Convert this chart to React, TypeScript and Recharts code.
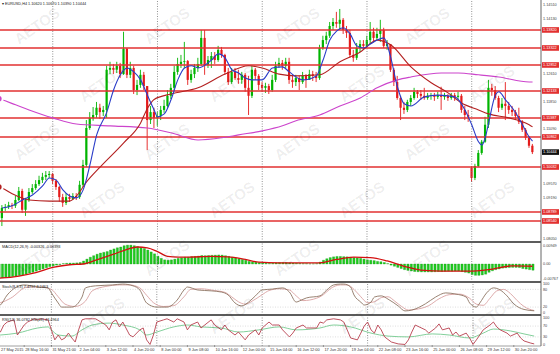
import { ComposedChart, Bar, Line, XAxis, YAxis, ReferenceLine } from "recharts";

// EURUSD H4, 27 May - 1 Jul 2015
const firstOpen = 1.0879;
const gapOpens: Record<number, number> = { 140: 1.1001 };

const closes = [
  1.0862, 1.089, 1.0893, 1.0898, 1.0896, 1.0912, 1.0937, 1.0885, 1.0912, 1.0934,
  1.0945, 1.0956, 1.0967, 1.0976, 1.0981, 1.0984, 1.0965, 1.0948, 1.092, 1.0904,
  1.092, 1.0915, 1.0923, 1.092, 1.0954, 1.1009, 1.1111, 1.1139, 1.1147, 1.1167,
  1.1155, 1.1161, 1.1272, 1.1277, 1.1272, 1.1283, 1.126, 1.133, 1.1258, 1.1277,
  1.1216, 1.123, 1.1258, 1.1227, 1.1133, 1.1155, 1.1139, 1.1144, 1.1161, 1.1172,
  1.12, 1.1222, 1.1266, 1.1288, 1.1294, 1.1296, 1.1244, 1.126, 1.1277, 1.1288,
  1.136, 1.1285, 1.1299, 1.131, 1.1299, 1.1327, 1.1313, 1.1266, 1.1238, 1.1266,
  1.1249, 1.1244, 1.1258, 1.1222, 1.12, 1.1272, 1.1255, 1.123, 1.1222, 1.1227,
  1.1216, 1.1244, 1.1283, 1.1291, 1.1283, 1.1294, 1.1244, 1.1238, 1.1249, 1.1238,
  1.1255, 1.1244, 1.126, 1.1255, 1.1249, 1.1332, 1.1354, 1.1366, 1.1393, 1.1404,
  1.1399, 1.141, 1.1382, 1.1374, 1.1313, 1.1305, 1.1332, 1.1343, 1.1338, 1.1354,
  1.1377, 1.136, 1.1371, 1.1382, 1.1338, 1.1343, 1.1272, 1.1238, 1.1194, 1.1167,
  1.1161, 1.1183, 1.1194, 1.1211, 1.1205, 1.12, 1.1194, 1.12, 1.1202, 1.1197,
  1.1202, 1.1197, 1.12, 1.1194, 1.1202, 1.1197, 1.12, 1.1161, 1.1147, 1.1142,
  1.0973, 1.1006, 1.1042, 1.1073, 1.112, 1.1222, 1.1216, 1.1194, 1.1167, 1.1178,
  1.1172, 1.1161, 1.1155, 1.1144, 1.1128, 1.1106, 1.1084, 1.1062, 1.10444,
];

const highs = [
  1.0876, 1.0898, 1.0901, 1.0907, 1.0904, 1.0923, 1.0948, 1.0943, 1.0918, 1.0945,
  1.0956, 1.0967, 1.0979, 1.0987, 1.0992, 1.0992, 1.0987, 1.097, 1.0951, 1.0929,
  1.0931, 1.0929, 1.0931, 1.0931, 1.0965, 1.1023, 1.1133, 1.1155, 1.1169, 1.1183,
  1.1178, 1.1172, 1.1283, 1.1294, 1.1288, 1.1294, 1.1291, 1.1377, 1.1332, 1.1294,
  1.1283, 1.1244, 1.1272, 1.1266, 1.1227, 1.1172, 1.1167, 1.1155, 1.1172, 1.1189,
  1.1216, 1.1233, 1.1283, 1.1305, 1.1313, 1.1349, 1.1299, 1.1272, 1.1288, 1.1305,
  1.1382, 1.1382, 1.131, 1.1321, 1.1321, 1.1338, 1.1335, 1.1316, 1.1277, 1.1277,
  1.1277, 1.1272, 1.1266, 1.1263, 1.1255, 1.1283, 1.1277, 1.126, 1.1238, 1.1236,
  1.1233, 1.1258, 1.1294, 1.1305, 1.1299, 1.1305, 1.1305, 1.1255, 1.1258, 1.1255,
  1.1266, 1.126, 1.1272, 1.1269, 1.1266, 1.1341, 1.1366, 1.1377, 1.1404, 1.1415,
  1.1432, 1.144, 1.1415, 1.1393, 1.1382, 1.1327, 1.1346, 1.1354, 1.1354, 1.1366,
  1.1404, 1.1388, 1.1388, 1.141, 1.1388, 1.1354, 1.1343, 1.1277, 1.1255, 1.12,
  1.1183, 1.1189, 1.1202, 1.1222, 1.1216, 1.1216, 1.1222, 1.1208, 1.1208, 1.1208,
  1.1211, 1.1225, 1.1208, 1.1205, 1.1208, 1.1208, 1.1211, 1.1205, 1.1172, 1.1161,
  1.1006, 1.1012, 1.105, 1.1078, 1.1142, 1.1244, 1.1233, 1.1227, 1.12, 1.1194,
  1.1238, 1.1183, 1.1172, 1.1161, 1.1167, 1.1133, 1.1111, 1.1089, 1.1067,
];

const lows = [
  1.0854, 1.084, 1.0882, 1.0887, 1.0887, 1.089, 1.0909, 1.0876, 1.0868, 1.0907,
  1.0929, 1.094, 1.0951, 1.0959, 1.0967, 1.0973, 1.0956, 1.094, 1.0907, 1.0893,
  1.0898, 1.0907, 1.0912, 1.0912, 1.0915, 1.0948, 1.1003, 1.1106, 1.1131, 1.1139,
  1.1136, 1.1144, 1.1139, 1.126, 1.126, 1.1263, 1.1249, 1.1258, 1.1249, 1.1249,
  1.1205, 1.1202, 1.1222, 1.1216, 1.105, 1.1122, 1.1111, 1.1117, 1.1133, 1.1153,
  1.1167, 1.1191, 1.1216, 1.1258, 1.1277, 1.1277, 1.123, 1.1236, 1.1249, 1.1266,
  1.1283, 1.1258, 1.1277, 1.1277, 1.1288, 1.1294, 1.1305, 1.1258, 1.123, 1.1233,
  1.1244, 1.1233, 1.1233, 1.1211, 1.1147, 1.1194, 1.1244, 1.1216, 1.1211, 1.1208,
  1.1205, 1.1211, 1.1238, 1.1277, 1.1272, 1.1277, 1.1233, 1.1222, 1.1227, 1.1216,
  1.1233, 1.1222, 1.1244, 1.1241, 1.1238, 1.1244, 1.1327, 1.1343, 1.136, 1.1382,
  1.1388, 1.1382, 1.1371, 1.136, 1.1305, 1.1294, 1.1299, 1.1321, 1.1327, 1.1332,
  1.1343, 1.1349, 1.1354, 1.1349, 1.1332, 1.1327, 1.1266, 1.1227, 1.1189, 1.1133,
  1.115, 1.1155, 1.1172, 1.1189, 1.1194, 1.1189, 1.1189, 1.1189, 1.1189, 1.1186,
  1.1191, 1.1161, 1.1189, 1.1186, 1.1189, 1.1186, 1.1189, 1.1153, 1.1133, 1.1128,
  1.0962, 1.0967, 1.1003, 1.1037, 1.107, 1.1111, 1.12, 1.1189, 1.1155, 1.1161,
  1.1133, 1.115, 1.1144, 1.1133, 1.1122, 1.11, 1.1078, 1.1056, 1.1039,
];

// moving averages, [bar, price]
const blueMa: [number, number][] = [
  [1, 1.089], [4, 1.0896], [7, 1.0912], [10, 1.0926], [13, 1.0951], [15, 1.0973], [17, 1.0967],
  [19, 1.094], [21, 1.0923], [23, 1.0918], [25, 1.094], [27, 1.1009], [29, 1.1092], [32, 1.1155],
  [34, 1.1216], [36, 1.1258], [38, 1.1277], [40, 1.1266], [42, 1.1244], [44, 1.1202], [46, 1.1161],
  [47, 1.1142], [49, 1.115], [51, 1.1189], [53, 1.1244], [55, 1.1277], [57, 1.1283], [59, 1.1277],
  [63, 1.1299], [65, 1.1316], [67, 1.1305], [69, 1.1272], [71, 1.1263], [73, 1.1249], [75, 1.1244],
  [78, 1.1244], [81, 1.1277], [84, 1.128], [86, 1.1266], [90, 1.1244], [94, 1.1255], [96, 1.1299],
  [98, 1.1354], [100, 1.1379], [102, 1.1388], [104, 1.1371], [106, 1.1338], [108, 1.1332],
  [110, 1.1343], [112, 1.1354], [114, 1.136], [116, 1.1307], [118, 1.1225], [120, 1.1178],
  [122, 1.1172], [126, 1.1197], [130, 1.1202], [135, 1.1197], [138, 1.1161], [140, 1.112],
  [142, 1.1073], [143, 1.1064], [144, 1.1084], [145, 1.1125], [147, 1.1202], [148, 1.1211],
  [150, 1.1189], [153, 1.1153], [155, 1.112], [157, 1.1086], [158, 1.1075],
];
const redMa: [number, number][] = [
  [0, 1.0948], [1, 1.0945], [4, 1.0929], [9, 1.0912], [15, 1.0909], [21, 1.0909], [23, 1.0923],
  [26, 1.0962], [30, 1.1003], [37, 1.107], [42, 1.1125], [44, 1.1165], [46, 1.119], [51, 1.1205],
  [59, 1.1222], [67, 1.126], [74, 1.1283], [78, 1.1277], [83, 1.126], [88, 1.1255], [95, 1.1258],
  [101, 1.1294], [107, 1.1321], [112, 1.1354], [116, 1.1341], [122, 1.128], [128, 1.1236],
  [133, 1.1208], [137, 1.118], [142, 1.1161], [145, 1.115], [151, 1.1139], [157, 1.112], [158, 1.1114],
];
const magentaMa: [number, number][] = [
  [0, 1.1192], [1, 1.1189], [5, 1.1175], [9, 1.1161], [16, 1.1139], [23, 1.1122], [33, 1.1117],
  [44, 1.1111], [52, 1.1095], [59, 1.1078], [66, 1.1084], [71, 1.1092], [78, 1.1103], [84, 1.1117],
  [88, 1.1131], [95, 1.1147], [101, 1.1172], [107, 1.1194], [112, 1.1222], [118, 1.1244],
  [122, 1.1252], [131, 1.1263], [136, 1.1263], [142, 1.1258], [148, 1.1252], [157, 1.1238], [158, 1.1238],
];

// support / resistance lines
const levels = [1.1382, 1.13322, 1.12852, 1.12133, 1.11387, 1.10862, 1.10032, 1.08789, 1.0854];
const priceTicks = [
  1.1451, 1.1413, 1.1375, 1.1337, 1.1299, 1.1261, 1.1223, 1.1185, 1.1147,
  1.1109, 1.1071, 1.1033, 1.0995, 1.0957, 1.0919, 1.0881, 1.0843, 1.0805,
];

const macdHist = [
  -0.0075,
  -0.0074, -0.0072, -0.007, -0.0067, -0.0064, -0.0061, -0.0058, -0.0054, -0.0048, -0.0044, -0.0038, -0.0032, -0.0026, -0.002, -0.0014,
  -0.001, -0.0006, -0.0003, 0.0002, 0.0004, 0.0005, 0.0005, 0.0006, 0.0008, 0.0016, 0.0026, 0.0036, 0.0044, 0.0052, 0.0058,
  0.0062,
  0.0066, 0.0074, 0.008, 0.0086, 0.009, 0.0097, 0.01, 0.01, 0.0097, 0.0092, 0.0088, 0.0082, 0.0074, 0.0064, 0.0054,
  0.0042, 0.003, 0.0022, 0.002, 0.0022, 0.0026, 0.003, 0.0033, 0.0036, 0.0036, 0.0038, 0.004, 0.0042, 0.0045, 0.0044,
  0.0045,
  0.0046, 0.0047, 0.0048, 0.0047, 0.0044, 0.004, 0.0036, 0.0032, 0.0028, 0.0024, 0.002, 0.0014, 0.0012, 0.001, 0.0008,
  0.0006, 0.0004, 0.0003, 0.0004, 0.0006, 0.0008, 0.0008, 0.0008, 0.0006, 0.0005, 0.0004, 0.0003, 0.0002, 0.0002, 0.0001,
  0.0001,
  0.0002, 0.001, 0.002, 0.0028, 0.0034, 0.0038, 0.004, 0.004, 0.0039, 0.0038, 0.0036, 0.0034, 0.0032, 0.003, 0.0026,
  0.0022, 0.002, 0.0018, 0.0014, 0.0012, 0.0008, 0.0002, -0.0006, -0.0012, -0.0018, -0.0024, -0.003, -0.0034, -0.0037, -0.004,
  -0.0041,
  -0.0042, -0.0042, -0.0042, -0.0042, -0.0041, -0.004, -0.004, -0.0039, -0.0038, -0.0038, -0.0037, -0.0037, -0.004, -0.0044, -0.0048,
  -0.0056, -0.006, -0.006, -0.0058, -0.0054, -0.0044, -0.0036, -0.003, -0.0026, -0.0022, -0.002, -0.0019, -0.0018, -0.0018, -0.0019,
  -0.0024, -0.0027, -0.003, -0.0033,
];
const macdSignal: [number, number][] = [
  [0, -0.0075], [1, -0.0074], [6, -0.0064], [11, -0.0046], [16, -0.0018], [21, -0.0004], [25, 0],
  [29, 0.0022], [34, 0.0052], [38, 0.0078], [41, 0.009], [44, 0.0086], [47, 0.0066], [50, 0.004],
  [53, 0.0036], [57, 0.0037], [63, 0.004], [68, 0.0038], [73, 0.0024], [77, 0.001], [83, 0.0006],
  [95, 0.0006], [100, 0.0024], [105, 0.0036], [110, 0.0034], [115, 0.0016], [120, -0.0012],
  [126, -0.0034], [131, -0.0038], [139, -0.0038], [145, -0.003], [152, -0.001], [158, -0.0012],
];

const stochMain: [number, number][] = [
  [0, 22], [1, 27], [3, 61], [8, 95], [12, 88], [15, 85], [16, 68], [18, 34], [19, 20], [22, 20],
  [25, 54], [26, 85], [29, 92], [34, 95], [37, 98], [40, 92], [42, 78], [44, 34], [47, 20], [50, 20],
  [53, 44], [55, 78], [56, 88], [59, 78], [63, 75], [66, 71], [68, 61], [70, 34], [72, 24], [74, 37],
  [76, 58], [78, 78], [81, 81], [84, 85], [86, 71], [88, 37], [89, 41], [91, 51], [95, 58], [97, 78],
  [99, 95], [101, 98], [102, 98], [104, 88], [105, 61], [107, 37], [108, 27], [110, 37], [111, 54],
  [113, 58], [115, 47], [118, 24], [120, 7], [122, 10], [126, 31], [129, 54], [132, 68], [135, 64],
  [138, 54], [139, 34], [141, 20], [142, 34], [144, 68], [146, 85], [148, 78], [150, 58], [152, 31],
  [155, 12], [158, 7.48],
];
const stochSignal: [number, number][] = [
  [0, 33], [1, 35], [4, 50], [9, 88], [13, 88], [16, 80], [18, 55], [20, 30], [23, 22], [26, 40],
  [28, 75], [32, 90], [36, 95], [39, 95], [42, 85], [44, 60], [46, 35], [49, 22], [52, 25], [55, 55],
  [57, 80], [60, 82], [64, 76], [67, 70], [69, 55], [71, 38], [73, 30], [75, 40], [78, 62], [80, 76],
  [83, 82], [86, 78], [88, 58], [90, 42], [94, 50], [96, 62], [98, 82], [101, 95], [103, 95],
  [105, 80], [107, 55], [109, 35], [111, 38], [113, 52], [115, 55], [117, 40], [119, 22], [121, 10],
  [123, 12], [127, 25], [130, 48], [133, 62], [136, 64], [139, 50], [141, 30], [143, 26], [145, 50],
  [147, 75], [149, 80], [151, 66], [153, 42], [155, 22], [158, 8.25],
];

const rsiFast: [number, number][] = [
  [0, 40], [1, 48], [2, 74], [3, 85], [5, 93], [6, 37], [8, 74], [9, 85], [11, 97], [12, 93], [13, 97],
  [15, 93], [16, 56], [17, 19], [18, 37], [19, 19], [20, 26], [21, 44], [22, 26], [23, 11], [24, 56],
  [25, 93], [26, 97], [28, 97], [29, 97], [32, 74], [33, 56], [34, 85], [35, 93], [36, 67], [37, 85],
  [39, 37], [40, 30], [42, 56], [43, 63], [44, 19], [45, 2], [46, 37], [47, 85], [49, 93], [50, 97],
  [52, 85], [53, 97], [55, 85], [56, 56], [57, 74], [59, 85], [60, 63], [63, 93], [64, 74], [66, 56],
  [67, 74], [68, 56], [70, 37], [71, 48], [73, 19], [74, 37], [76, 56], [77, 37], [78, 63], [80, 85],
  [81, 74], [83, 74], [84, 56], [86, 30], [87, 44], [88, 63], [90, 74], [91, 63], [94, 63], [95, 85],
  [96, 81], [97, 93], [99, 97], [101, 93], [102, 85], [103, 56], [104, 26], [106, 19], [107, 44],
  [108, 70], [109, 85], [110, 56], [111, 44], [112, 74], [113, 56], [114, 30], [116, 11], [118, 4],
  [120, 2], [121, 19], [122, 48], [123, 74], [126, 56], [127, 44], [129, 63], [130, 78], [131, 56],
  [133, 63], [134, 37], [135, 48], [136, 33], [138, 44], [139, 26], [140, 2], [141, 19], [142, 37],
  [143, 56], [145, 74], [146, 85], [147, 67], [148, 56], [150, 44], [151, 33], [153, 44], [154, 26],
  [155, 15], [157, 7], [158, 4],
];
const rsiSlow: [number, number][] = [
  [0, 36], [1, 37], [6, 44], [12, 63], [15, 67], [16, 56], [18, 37], [22, 33], [25, 56], [28, 74],
  [33, 81], [37, 74], [42, 56], [44, 37], [47, 48], [52, 67], [56, 74], [60, 67], [66, 63], [71, 48],
  [77, 56], [83, 67], [88, 56], [95, 63], [99, 74], [104, 67], [110, 44], [115, 33], [121, 30],
  [128, 41], [133, 37], [139, 26], [143, 44], [146, 59], [151, 52], [155, 41], [158, 33],
];

const timeLabels = [
  "27 May 2015", "28 May 16:00", "31 May 21:00", "2 Jun 04:00", "3 Jun 12:00", "4 Jun 20:00",
  "8 Jun 00:00", "9 Jun 08:00", "10 Jun 16:00", "12 Jun 00:00", "15 Jun 04:00", "16 Jun 12:00",
  "17 Jun 20:00", "19 Jun 04:00", "22 Jun 08:00", "23 Jun 16:00", "25 Jun 00:00", "26 Jun 08:00",
  "29 Jun 12:00", "30 Jun 20:00",
];
const weekStarts = [16, 47, 78, 109, 140];

const SLOTS = 161;
const GREEN = "#00b400";
const DOWN = "#e41b1b";
const LEVEL = "#e23030";
const FONT = "Liberation Sans, Arial, sans-serif";
const lastClose = closes[closes.length - 1];
const boxed = [...levels, lastClose];
// plain price labels that sit under a boxed label are hidden, as the terminal does
const plainTicks = priceTicks.filter((t) => !boxed.some((b) => Math.abs(b - t) < 0.0018));

const rows: any[] = Array.from({ length: SLOTS }, (_, i) => ({ i }));
closes.forEach((c, i) => {
  const open = i === 0 ? firstOpen : gapOpens[i] ?? closes[i - 1];
  const high = Math.max(highs[i], open, c);
  const low = Math.min(lows[i], open, c);
  Object.assign(rows[i], { open, close: c, high, low, range: [low, high] });
});
const put = (key: string, pts: [number, number][]) => pts.forEach(([i, v]) => (rows[i][key] = v));
put("blue", blueMa);
put("red", redMa);
put("magenta", magentaMa);
put("signal", macdSignal);
put("stoch", stochMain);
put("stochSig", stochSignal);
put("rsi", rsiFast);
put("rsiSlow", rsiSlow);
macdHist.forEach((v, i) => (rows[i].macd = v));

function Candle(props: any) {
  const { x, y, width, height, payload } = props;
  if (!payload || payload.close == null || !isFinite(y)) return <g />;
  const { open, close, high, low } = payload;
  const top = Math.min(y, y + height);
  const h = Math.abs(height);
  const cx = x + width / 2;
  const span = high - low || 1e-6;
  const py = (v: number) => top + ((high - v) / span) * h;
  const c = close >= open ? GREEN : DOWN;
  const b1 = py(Math.max(open, close));
  const b2 = py(Math.min(open, close));
  return (
    <g>
      <line x1={cx} x2={cx} y1={top} y2={top + h} stroke={c} strokeWidth={0.9} />
      <rect x={cx - 1.1} y={b1} width={2.2} height={Math.max(b2 - b1, 0.8)} fill={c} />
    </g>
  );
}

function PriceTick(props: any) {
  const { x, y, payload } = props;
  const v = payload.value as number;
  const txt = v.toFixed(5);
  if (boxed.includes(v)) {
    return (
      <g>
        <rect x={x - 1} y={y - 2.8} width={17} height={5.6} fill={v === lastClose ? "#111" : LEVEL} />
        <text x={x} y={y + 1.4} fontSize={3.8} fill="#fff" fontFamily={FONT}>{txt}</text>
      </g>
    );
  }
  return <text x={x} y={y + 1.4} fontSize={3.8} fill="#444" fontFamily={FONT}>{txt}</text>;
}

const smallTick = (fmt: (v: number) => string) => (props: any) => (
  <text x={props.x} y={props.y + 1.4} fontSize={3.8} fill="#444" fontFamily={FONT}>
    {fmt(props.payload.value)}
  </text>
);

function TimeTick(props: any) {
  const { x, y, payload } = props;
  const label = timeLabels[payload.value / 8];
  if (!label) return <g />;
  return (
    <g>
      <line x1={x} x2={x} y1={y - 1} y2={y + 1} stroke="#666" strokeWidth={0.6} />
      <text x={Math.max(x + 1, 4)} y={y + 4.5} fontSize={3.9} fill="#333" fontFamily={FONT}>{label}</text>
    </g>
  );
}

const weekLines = () =>
  weekStarts.map((w) => (
    <ReferenceLine key={w} x={w} stroke="#777" strokeDasharray="1 1.5" strokeWidth={0.8} ifOverflow="visible" />
  ));

const yAxisCommon = {
  orientation: "right" as const,
  width: 19,
  allowDataOverflow: true,
  interval: 0 as const,
  tickLine: false,
  tickSize: 0,
  tickMargin: 2,
  axisLine: { stroke: "#666" },
};
const margin = { top: 0, right: 0, bottom: 0, left: 0 };

// watermark positions, kept fully inside the picture
const marks: [number, number][] = [];
for (let r = 0; r < 6; r++) for (let c = 0; c < 4; c++) marks.push([40 + c * 130 + (r % 2) * 65, 30 + r * 58]);

export default function App() {
  return (
    <div style={{ position: "absolute", left: 0, top: 0, width: 560, height: 354, background: "#fff", overflow: "hidden" }}>
      <div style={{ position: "absolute", left: -3, top: 0 }}>
        <ComposedChart width={563} height={242} data={rows} margin={margin} barCategoryGap={0} barGap={0}>
          <XAxis dataKey="i" type="category" hide />
          <YAxis
            {...yAxisCommon}
            domain={[1.07959, 1.14648]}
            ticks={[...plainTicks, ...boxed]}
            tick={(p: any) => <PriceTick {...p} />}
          />
          {weekLines()}
          {levels.map((l) => (
            <ReferenceLine key={l} y={l} stroke={LEVEL} strokeWidth={1.4} />
          ))}
          <Bar dataKey="range" shape={(p: any) => <Candle {...p} />} isAnimationActive={false} />
          <Line dataKey="magenta" stroke="#cc44cc" strokeWidth={1.1} dot={false} connectNulls type="monotone" isAnimationActive={false} />
          <Line dataKey="red" stroke="#b32020" strokeWidth={1.1} dot={false} connectNulls type="monotone" isAnimationActive={false} />
          <Line dataKey="blue" stroke="#2a3cc8" strokeWidth={1.1} dot={false} connectNulls type="monotone" isAnimationActive={false} />
        </ComposedChart>
      </div>

      <div style={{ position: "absolute", left: -3, top: 242 }}>
        <ComposedChart width={563} height={40} data={rows} margin={margin} barCategoryGap={0}>
          <XAxis dataKey="i" type="category" hide />
          <YAxis
            {...yAxisCommon}
            domain={[-0.00954, 0.01166]}
            ticks={[0.00949, 0, -0.00767]}
            tick={smallTick((v) => (v === 0 ? "0.00" : v.toFixed(5)))}
          />
          {weekLines()}
          <Bar dataKey="macd" fill="#1ecb1e" stroke="#139a13" strokeWidth={0.3} barSize={2.2} isAnimationActive={false} />
          <Line dataKey="signal" stroke="#d41010" strokeWidth={1.3} dot={false} connectNulls type="monotone" isAnimationActive={false} />
        </ComposedChart>
      </div>

      <div style={{ position: "absolute", left: -3, top: 282 }}>
        <ComposedChart width={563} height={33} data={rows} margin={margin}>
          <XAxis dataKey="i" type="category" hide />
          <YAxis {...yAxisCommon} domain={[-6.8, 105]} ticks={[100, 80, 20, 0]} tick={smallTick((v) => String(v))} />
          {weekLines()}
          <ReferenceLine y={80} stroke="#c8c8c8" strokeDasharray="1 1.5" strokeWidth={0.6} />
          <ReferenceLine y={20} stroke="#c8c8c8" strokeDasharray="1 1.5" strokeWidth={0.6} />
          <Line dataKey="stochSig" stroke="#d9a2a2" strokeWidth={0.9} dot={false} connectNulls type="monotone" isAnimationActive={false} />
          <Line dataKey="stoch" stroke="#8d7462" strokeWidth={0.9} dot={false} connectNulls type="monotone" isAnimationActive={false} />
        </ComposedChart>
      </div>

      <div style={{ position: "absolute", left: -3, top: 315 }}>
        <ComposedChart width={563} height={39} data={rows} margin={margin}>
          <XAxis
            dataKey="i"
            type="category"
            height={8}
            interval={7}
            tickLine={false}
            tickSize={0}
            tickMargin={0}
            axisLine={{ stroke: "#888", strokeWidth: 0.8 }}
            tick={(p: any) => <TimeTick {...p} />}
          />
          <YAxis {...yAxisCommon} domain={[-3.7, 111]} ticks={[100, 70, 30, 0]} tick={smallTick((v) => String(v))} />
          {weekLines()}
          <ReferenceLine y={70} stroke="#c8c8c8" strokeDasharray="1 1.5" strokeWidth={0.6} />
          <ReferenceLine y={30} stroke="#c8c8c8" strokeDasharray="1 1.5" strokeWidth={0.6} />
          <Line dataKey="rsiSlow" stroke="#74c98e" strokeWidth={0.9} dot={false} connectNulls type="monotone" isAnimationActive={false} />
          <Line dataKey="rsi" stroke="#b8404e" strokeWidth={0.9} dot={false} connectNulls type="linear" isAnimationActive={false} />
        </ComposedChart>
      </div>

      {[241, 281, 314].map((t) => (
        <div key={t} style={{ position: "absolute", left: 0, top: t, width: 541, height: 2, background: "#5c5c5c" }} />
      ))}

      <svg width={560} height={354} style={{ position: "absolute", left: 0, top: 0, pointerEvents: "none" }}>
        {marks.map(([x, y], k) => (
          <text
            key={k}
            x={x}
            y={y}
            fontSize={15}
            fontWeight="bold"
            fontFamily={FONT}
            fill="#000"
            fillOpacity={0.08}
            transform={`rotate(-35 ${x} ${y})`}
            textAnchor="middle"
          >
            AETOS
          </text>
        ))}
        <text x={2} y={4.5} fontSize={3.8} fill="#222" fontFamily={FONT}>
          ▾ EURUSD,H4  1.10620 1.10670 1.10390 1.10444
        </text>
        <text x={2} y={248} fontSize={3.8} fill="#222" fontFamily={FONT}>
          MACD(12,26,9) -0.00326 -0.00393
        </text>
        <text x={2} y={288} fontSize={3.8} fill="#222" fontFamily={FONT}>
          Stoch(8,3,3) 7.4797 8.2463
        </text>
        <text x={2} y={321} fontSize={3.8} fill="#222" fontFamily={FONT}>
          RSI(13) 36.0782 RSI(28) 43.4964
        </text>
      </svg>
    </div>
  );
}
